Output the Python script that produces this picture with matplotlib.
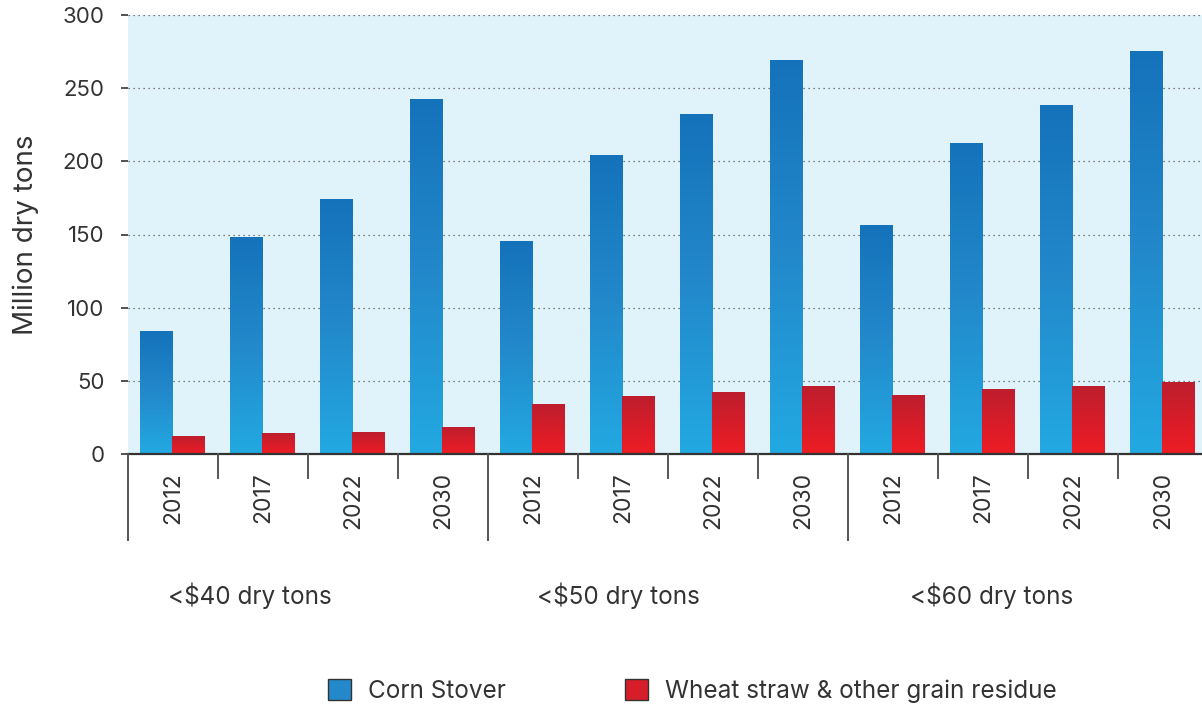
import numpy as np
import matplotlib
matplotlib.use('Agg')
import matplotlib.pyplot as plt
from matplotlib.colors import LinearSegmentedColormap
from matplotlib.patches import Patch
import matplotlib.transforms as mtransforms

plt.rcParams['font.family'] = ['Inter', 'DejaVu Sans']

# data
years = ['2012', '2017', '2022', '2030']
groups = ['<$40 dry tons', '<$50 dry tons', '<$60 dry tons']
corn_stover = [84, 148, 174, 242,
               145, 204, 232, 269,
               156, 212, 238, 275]
wheat_straw = [12, 14, 15, 18,
               34, 39, 42, 46,
               40, 44, 46, 49]

x_labels = years * len(groups)
x = np.arange(len(x_labels))

corn_cmap = LinearSegmentedColormap.from_list('corn', ['#22a9e1', '#2389cb', '#1472ba'])
wheat_cmap = LinearSegmentedColormap.from_list('wheat', ['#ee1c24', '#d61d29', '#bd1e2e'])

fig = plt.figure(figsize=(12.02, 7.08), dpi=100)
ax = fig.add_axes([128 / 1202, 1 - 454 / 708, 1 - 128 / 1202, (454 - 15) / 708])
ax.set_facecolor('#e1f3fa')

width = 0.36
bars_corn = ax.bar(x - 0.19, corn_stover, width, color='none', zorder=2)
bars_wheat = ax.bar(x + 0.17, wheat_straw, width, color='none', zorder=2)

# vertical gradient inside each bar
grad = np.linspace(0, 1, 256).reshape(-1, 1)
for bars, cmap in ((bars_corn, corn_cmap), (bars_wheat, wheat_cmap)):
    for b in bars:
        x0, h = b.get_x(), b.get_height()
        ax.imshow(grad, cmap=cmap, origin='lower', aspect='auto', zorder=2,
                  extent=[x0, x0 + b.get_width(), 0, h], interpolation='bilinear')

ax.set_xlim(-0.5, 11.5 - 6 / 90)
ax.set_ylim(0, 300)
ax.set_yticks(np.arange(0, 301, 50))
ax.yaxis.grid(True, linestyle=(0, (1, 3)), color='#555555', linewidth=0.9)
ax.set_axisbelow(True)
for s in ('left', 'right', 'top'):
    ax.spines[s].set_visible(False)
ax.spines['bottom'].set_color('#333333')
ax.spines['bottom'].set_linewidth(1.6)
ax.tick_params(axis='y', length=5, width=1.2, color='#333333', labelsize=16,
               labelcolor='#333333', pad=12)
ax.set_yticklabels(['0', '50', '100', '150', '200', '250', '300'])

ax.set_xticks(x)
ax.set_xticklabels(x_labels, rotation=90, fontsize=16.5, color='#333333')
ax.tick_params(axis='x', length=0, pad=13)
for lbl in ax.get_xticklabels():
    lbl.set_verticalalignment('top')

ax.set_ylabel('Million dry tons', fontsize=20, color='#333333')
ax.yaxis.set_label_coords(-0.083, 0.5)

# separator lines below the axis
trans = mtransforms.blended_transform_factory(ax.transData, ax.transAxes)
ax_h = (454 - 15)
for i in range(len(x_labels) + 1):
    xb = i - 0.5
    depth = 86 if i % len(years) == 0 else 24
    ax.plot([xb, xb], [0, -depth / ax_h], transform=trans, clip_on=False,
            color='#555555', linewidth=1.4, zorder=3)

# group labels
group_x = [0.85, 4.95, 9.1]
for gx, g in zip(group_x, groups):
    ax.text(gx, -(596 - 454) / ax_h, g, transform=trans, ha='center', va='center',
            fontsize=17.5, color='#333333')

handles = [Patch(facecolor='#2389cb', edgecolor='#333333', linewidth=1.0),
           Patch(facecolor='#d61d29', edgecolor='#333333', linewidth=1.0)]
fig.legend(handles, ['Corn Stover', 'Wheat straw & other grain residue'],
           loc='center', bbox_to_anchor=(0.576, 1 - 691 / 708), ncol=2, frameon=False,
           fontsize=17.5, handlelength=0.95, handleheight=0.95, columnspacing=4.9,
           handletextpad=0.7, labelcolor='#333333')

fig.savefig('out.png', dpi=100)
